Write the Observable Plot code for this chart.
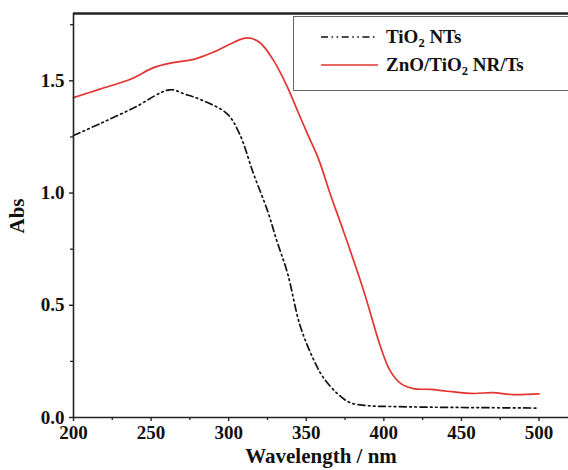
<!DOCTYPE html>
<html><head><meta charset="utf-8">
<script src="https://cdn.jsdelivr.net/npm/d3@7"></script>
<script src="https://cdn.jsdelivr.net/npm/@observablehq/plot@0.6"></script>
<style>
body{margin:0;background:#fff;}
#wrap{position:relative;width:568px;height:470px;overflow:hidden;font-family:"Liberation Serif","Times New Roman",serif;}
#legend{position:absolute;left:293px;top:16px;width:290px;height:75px;border:1px solid #666;background:#fff;box-sizing:border-box;}
.row{position:absolute;left:0;height:24px;display:flex;align-items:center;}
.row svg{margin-left:27px;margin-right:8px;}
.row span{font-weight:bold;font-size:19px;color:#111;}
.row sub{font-size:12.5px;vertical-align:-4px;line-height:0;}
</style></head>
<body><div id="wrap"></div>
<script>
const wlZnO = [200,217,237,252,265,278,290,301,312,320,329,338,346,352,358,366,374,387,398,404,411,419,430,441,458,470,483,500];
const absZnO = [1.425,1.463,1.508,1.560,1.582,1.597,1.627,1.664,1.691,1.671,1.590,1.47,1.34,1.245,1.15,0.985,0.83,0.565,0.312,0.209,0.151,0.129,0.125,0.117,0.107,0.111,0.102,0.105];
const wlTiO2 = [200,217,239,262,272,282,299,307,316,325,331,338,346,355,361,370,378,389,404,430,462,500];
const absTiO2 = [1.256,1.309,1.38,1.46,1.44,1.416,1.353,1.264,1.086,0.922,0.788,0.641,0.41,0.254,0.178,0.107,0.067,0.053,0.049,0.046,0.044,0.042];
const xTicks = [200,250,300,350,400,450,500];
const xMinor = [225,275,325,375,425,475];
const yTicks = [0,0.5,1.0,1.5];
const yMinor = [0.25,0.75,1.25,1.75];
const seriesNames = ["TiO₂ NTs","ZnO/TiO₂ NR/Ts"];

const red = "#e3342f";
const znO = wlZnO.map((w,i)=>({w, a:absZnO[i]}));
const tiO2 = wlTiO2.map((w,i)=>({w, a:absTiO2[i]}));
const font = {fontFamily:"Liberation Serif, Times New Roman, serif", fontWeight:"bold", fontSize:19};

const chart = Plot.plot({
  width:568, height:470,
  marginLeft:73, marginTop:13, marginBottom:53, marginRight:0,
  x:{domain:[200,519]},
  y:{domain:[0,1.8]},
  style:{background:"#fff", color:"#111", overflow:"visible"},
  marks:[
    Plot.line(tiO2,{x:"w",y:"a",stroke:"#111",strokeWidth:1.7,curve:"catmull-rom",strokeDasharray:"7,3.5,1.6,3.5,1.6,3.5"}),
    Plot.line(znO,{x:"w",y:"a",stroke:red,strokeWidth:1.7,curve:"catmull-rom"}),
    Plot.axisX({ticks:xTicks,tickSize:4,tickPadding:4,tickFormat:d3.format("d"),label:null,stroke:"#222",strokeWidth:1.4,...font}),
    Plot.axisX({ticks:xMinor,tickSize:3,tickFormat:()=>"",label:null,stroke:"#222",strokeWidth:1.3}),
    Plot.axisY({ticks:yTicks,tickSize:4,tickPadding:5,tickFormat:d3.format(".1f"),label:null,stroke:"#222",strokeWidth:1.4,...font}),
    Plot.axisY({ticks:yMinor,tickSize:3,tickFormat:()=>"",label:null,stroke:"#222",strokeWidth:1.3}),
    Plot.ruleX([200],{stroke:"#222",strokeWidth:1.6}),
    Plot.ruleY([0],{stroke:"#222",strokeWidth:1.6}),
    Plot.ruleY([1.8],{stroke:"#222",strokeWidth:2.6}),
    Plot.text(["Wavelength / nm"],{frameAnchor:"bottom",dy:45,...font,fontSize:21,fill:"#111"}),
    Plot.text(["Abs"],{frameAnchor:"left",dx:-56,dy:18,rotate:-90,...font,fontSize:21,fill:"#111"})
  ]
});
const wrap = document.getElementById("wrap");
wrap.appendChild(chart);

const legend = document.createElement("div");
legend.id = "legend";
const styles = [{stroke:"#111",dash:"7,3.5,1.6,3.5,1.6,3.5"},{stroke:red,dash:""}];
seriesNames.forEach((name,i)=>{
  const row = document.createElement("div");
  row.className = "row";
  row.style.top = (8 + i*28) + "px";
  const parts = name.split("₂");
  row.innerHTML = `<svg width="57" height="6"><line x1="0" y1="3" x2="57" y2="3" stroke="${styles[i].stroke}" stroke-width="1.7" stroke-dasharray="${styles[i].dash}"/></svg><span>${parts[0]}<sub>2</sub>${parts[1]}</span>`;
  legend.appendChild(row);
});
wrap.appendChild(legend);
</script>
</body></html>
